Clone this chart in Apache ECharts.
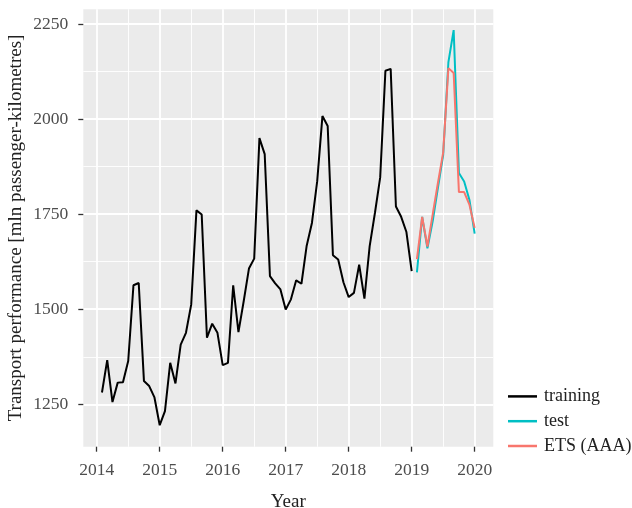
<!DOCTYPE html>
<html>
<head>
<meta charset="utf-8">
<script src="https://cdn.jsdelivr.net/npm/echarts@6/dist/echarts.min.js"></script>
<style>html,body{margin:0;padding:0;background:#fff}#c{width:632px;height:508px}</style>
</head>
<body>
<div id="c"></div>
<script>
// Monthly series, first point = Feb 2014
const trainingStart = [2014, 2];
const trainingValues = [
  1281,1366,1256,1307,1308,1364,1563,1569,1311,1298,1268,
  1195,1232,1359,1305,1407,1438,1512,1760,1749,1425,1462,1438,
  1353,1359,1563,1440,1521,1607,1633,1950,1908,1587,1568,1552,
  1499,1526,1576,1567,1667,1727,1836,2008,1982,1642,1631,1571,
  1532,1543,1617,1528,1666,1753,1846,2127,2132,1770,1743,1703,
  1600
];
const testStart = [2019, 2];
const testValues = [1597,1743,1660,1731,1819,1905,2150,2234,1858,1836,1788,1699];
const etsStart = [2019, 2];
const etsValues = [1632,1743,1665,1749,1832,1912,2134,2121,1808,1808,1775,1714];

const xMajorTicks = [2014,2015,2016,2017,2018,2019,2020];
const xMinorTicks = [2014.5,2015.5,2016.5,2017.5,2018.5,2019.5];
const yMajorTicks = [1250,1500,1750,2000,2250];
const yMinorTicks = [1375,1625,1875,2125];

const seriesNames = ['training','test','ETS (AAA)'];
const seriesColors = ['#000000','#00BFC4','#F8766D'];

function toPairs(start, vals){
  return vals.map((v,i)=>[start[0] + (start[1]-1+i)/12, v]);
}

const FONT = '"Liberation Serif", "DejaVu Serif", serif';
const chart = echarts.init(document.getElementById('c'));
const tickColor = '#333333';
const labelColor = '#4D4D4D';

chart.setOption({
  animation:false,
  textStyle:{fontFamily:FONT},
  grid:{left:83.3, right:138.7, top:9.3, bottom:61.3, show:true, backgroundColor:'#EBEBEB', borderWidth:0, containLabel:false, outerBoundsMode:'none'},
  legend:{
    orient:'vertical', left:508, top:384, padding:0, icon:'rect', itemWidth:29, itemHeight:2.5, itemGap:0,
    data:seriesNames,
    textStyle:{fontFamily:FONT, fontSize:18, color:'#222', lineHeight:24.8, padding:[0,0,0,2]}
  },
  xAxis:[{
    type:'value', min:2013.787, max:2020.296,
    name:'Year', nameLocation:'middle', nameGap:46,
    nameTextStyle:{fontFamily:FONT, fontSize:19, color:'#222'},
    axisLine:{show:false},
    axisTick:{show:true, length:5, customValues:xMajorTicks, lineStyle:{color:tickColor, width:1.3}},
    axisLabel:{customValues:xMajorTicks, margin:15, fontFamily:FONT, fontSize:17.5, color:labelColor, formatter:v=>String(v)},
    splitLine:{show:true, lineStyle:{color:'#FFFFFF', width:1.8}}
  },{
    type:'value', min:2013.787, max:2020.296, position:'bottom',
    axisLine:{show:false}, axisLabel:{show:false},
    axisTick:{show:false, customValues:xMinorTicks},
    splitLine:{show:true, lineStyle:{color:'#FFFFFF', width:0.9}}
  }],
  yAxis:[{
    type:'value', min:1138.5, max:2288.7,
    name:'Transport performance [mln passenger-kilometres]', nameLocation:'middle', nameGap:58, nameMoveOverlap:false,
    nameTextStyle:{fontFamily:FONT, fontSize:19, color:'#222'},
    axisLine:{show:false},
    axisTick:{show:true, length:5, customValues:yMajorTicks, lineStyle:{color:tickColor, width:1.3}},
    axisLabel:{customValues:yMajorTicks, margin:15, fontFamily:FONT, fontSize:17.5, color:labelColor, formatter:v=>String(v)},
    splitLine:{show:true, lineStyle:{color:'#FFFFFF', width:1.8}}
  },{
    type:'value', min:1138.5, max:2288.7, position:'left',
    axisLine:{show:false}, axisLabel:{show:false},
    axisTick:{show:false, customValues:yMinorTicks},
    splitLine:{show:true, lineStyle:{color:'#FFFFFF', width:0.9}}
  }],
  series:[
    {name:seriesNames[0], type:'line', data:toPairs(trainingStart, trainingValues), showSymbol:false, symbol:'none', lineStyle:{color:seriesColors[0], width:2}, itemStyle:{color:seriesColors[0]}, z:3},
    {name:seriesNames[1], type:'line', data:toPairs(testStart, testValues), showSymbol:false, symbol:'none', lineStyle:{color:seriesColors[1], width:2}, itemStyle:{color:seriesColors[1]}, z:3},
    {name:seriesNames[2], type:'line', data:toPairs(etsStart, etsValues), showSymbol:false, symbol:'none', lineStyle:{color:seriesColors[2], width:2}, itemStyle:{color:seriesColors[2]}, z:4}
  ]
});
</script>
</body>
</html>
